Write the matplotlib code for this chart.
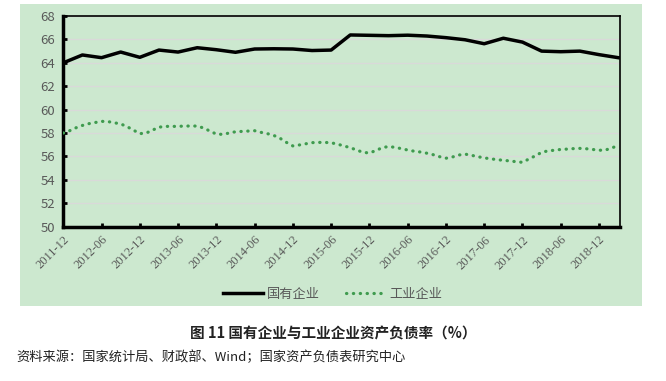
#================================================================================
# State-owned vs industrial enterprise debt-to-asset ratio (%)
#================================================================================

import matplotlib.pyplot as plt
from matplotlib.patches import Rectangle

plt.rcParams['font.family'] = ['Noto Sans CJK SC', 'DejaVu Sans']

#================================================================================
# Data (month index 0 = 2011-12)

tick_labels = ["2011-12", "2012-06", "2012-12", "2013-06", "2013-12", "2014-06",
               "2014-12", "2015-06", "2015-12", "2016-06", "2016-12", "2017-06",
               "2017-12", "2018-06", "2018-12"]

# 国有企业, quarterly
soe_months = list(range(0, 88, 3))
soe_ratio = [64.0, 64.67, 64.44, 64.92, 64.47, 65.09, 64.92, 65.29, 65.12, 64.9,
             65.18, 65.2, 65.18, 65.05, 65.09, 66.38, 66.35, 66.32, 66.36, 66.29,
             66.15, 65.97, 65.63, 66.1, 65.77, 65.0, 64.95, 65.0, 64.7, 64.44]

# 工业企业, monthly
ind_months = list(range(0, 88))
ind_ratio = [58.0, 58.2, 58.45, 58.65, 58.8, 58.9, 59.0, 58.98, 58.88, 58.78,
             58.55, 58.25, 57.95, 58.0, 58.25, 58.5, 58.57, 58.57, 58.57, 58.6,
             58.6, 58.6, 58.43, 58.17, 57.91, 57.89, 58.0, 58.11, 58.14, 58.17,
             58.2, 58.06, 57.95, 57.8, 57.55, 57.2, 56.9, 56.98, 57.08, 57.18,
             57.2, 57.2, 57.17, 57.05, 56.9, 56.75, 56.55, 56.35, 56.3, 56.5,
             56.75, 56.85, 56.78, 56.67, 56.55, 56.45, 56.38, 56.28, 56.15, 55.98,
             55.85, 55.95, 56.12, 56.2, 56.1, 55.98, 55.88, 55.8, 55.73, 55.67,
             55.62, 55.55, 55.5, 55.78, 56.05, 56.35, 56.48, 56.53, 56.6, 56.63,
             56.67, 56.69, 56.66, 56.6, 56.53, 56.55, 56.72, 56.95]

#================================================================================
# Plot

bg = "#cce8cf"
txt = "#595959"

fig = plt.figure(figsize=(6.66, 3.81), dpi=100)
fig.patches.append(Rectangle((0.030, 0.197), 0.934, 0.793, transform=fig.transFigure,
                             facecolor=bg, edgecolor="none", zorder=-5))

ax = fig.add_axes([0.095, 0.405, 0.836, 0.553])
ax.set_facecolor(bg)

ax.plot(soe_months, soe_ratio, color="black", lw=2.5, label="国有企业", zorder=3)
ax.plot(ind_months, ind_ratio, color="#3f9b4f", lw=2.3, linestyle=(0, (0.1, 2.05)),
        dash_capstyle="round", label="工业企业", zorder=3)

ax.set_xlim(0, 87.3)
ax.set_ylim(50, 68)
ax.set_yticks(range(50, 69, 2))
ax.set_xticks(range(0, 85, 6))
ax.set_xticklabels(tick_labels, rotation=45, ha="right", rotation_mode="anchor",
                   family="Liberation Serif", fontsize=9, color=txt)
ax.tick_params(axis="y", labelsize=9.5, labelcolor=txt, direction="in",
               length=3, width=2, pad=6)
ax.tick_params(axis="x", direction="in", length=3, width=2, pad=5)
ax.grid(axis="y", color="#d9d9d9", lw=1)
ax.set_axisbelow(True)

for side in ["left", "bottom"]:
    ax.spines[side].set_linewidth(2.5)
for side in ["top", "right"]:
    ax.spines[side].set_linewidth(1.2)

fig.legend(loc="center", bbox_to_anchor=(0.5, 0.228), ncol=2, frameon=False,
           fontsize=9.5, labelcolor=txt, handlelength=3, columnspacing=2,
           handletextpad=0.3)

fig.text(0.5, 0.125, "图 11 国有企业与工业企业资产负债率（%）", ha="center",
         va="center", fontsize=10.5, fontweight="bold", color="#222222")
fig.text(0.025, 0.062, "资料来源：国家统计局、财政部、Wind；国家资产负债表研究中心",
         ha="left", va="center", fontsize=9.5, color="#222222")

fig.savefig("out.png", dpi=100)
